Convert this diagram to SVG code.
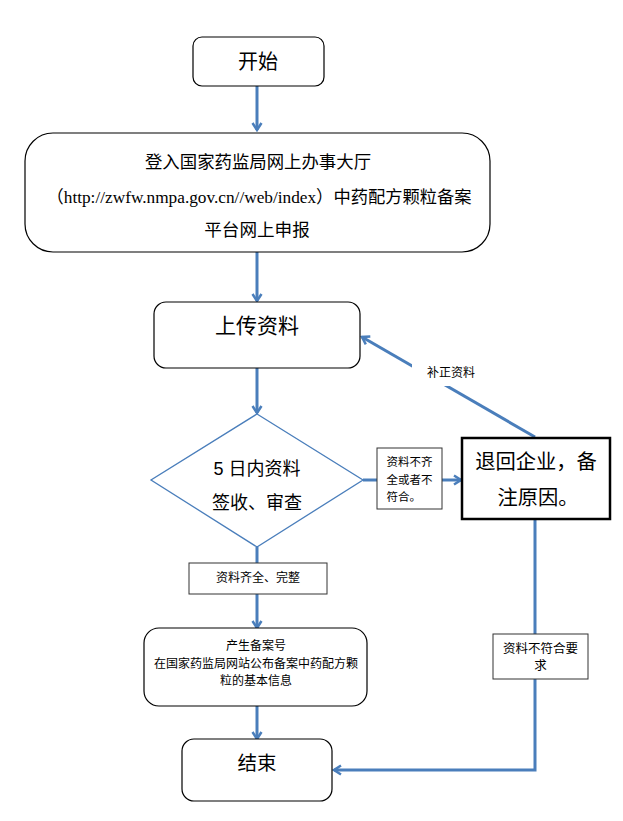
<svg xmlns="http://www.w3.org/2000/svg" width="623" height="821" viewBox="0 0 623 821">
<style>
.box{fill:#fff;stroke:#000;stroke-width:1.2}
.lbl{fill:#fff;stroke:#333;stroke-width:1}
.t{font-family:"Liberation Serif","Noto Sans CJK SC",serif;fill:#000;text-anchor:middle}
.con{fill:none;stroke:#4a7ebb;stroke-width:3}
</style>
<defs>
<marker id="ah" markerUnits="userSpaceOnUse" markerWidth="12" markerHeight="12" viewBox="0 0 12 12" refX="10" refY="6" orient="auto">
<path d="M3,1.5 L10,6 L3,10.5" fill="none" stroke="#4a7ebb" stroke-width="2.5"/>
</marker>
</defs>
<g id="connectors">
<line class="con" x1="257" y1="86" x2="257" y2="130" marker-end="url(#ah)"/>
<line class="con" x1="257" y1="252" x2="257" y2="301" marker-end="url(#ah)"/>
<line class="con" x1="257" y1="368" x2="257" y2="413" marker-end="url(#ah)"/>
<line class="con" x1="363" y1="480" x2="377" y2="480"/>
<line class="con" x1="442" y1="480" x2="461" y2="480" marker-end="url(#ah)"/>
<line class="con" x1="535" y1="437" x2="362" y2="337" marker-end="url(#ah)"/>
<polyline class="con" points="535,519 535,770 334,770" marker-end="url(#ah)"/>
<line class="con" x1="257" y1="547" x2="257" y2="563"/>
<line class="con" x1="257" y1="594" x2="257" y2="628" marker-end="url(#ah)"/>
<line class="con" x1="257" y1="706" x2="257" y2="739" marker-end="url(#ah)"/>
<g id="lbl-buzheng">
<rect x="412" y="358" width="70" height="28" fill="#fff"/>
<text class="t" x="451" y="377" font-size="12">补正资料</text>
</g>
<g id="lbl-buqi">
<rect class="lbl" x="377" y="448" width="65" height="61"/>
<text class="t" x="409.5" y="466" font-size="11.5">资料不齐</text>
<text class="t" x="409.5" y="484" font-size="11.5">全或者不</text>
<text class="t" x="409.5" y="501" font-size="11.5" text-anchor="start" style="text-anchor:start" dx="-23">符合。</text>
</g>
<g id="lbl-qiquan">
<rect class="lbl" x="189" y="563" width="138" height="31"/>
<text class="t" x="258" y="582" font-size="12">资料齐全、完整</text>
</g>
<g id="lbl-bufuhe">
<rect class="lbl" x="493" y="634" width="95" height="45"/>
<text class="t" x="540.5" y="652.5" font-size="12.5">资料不符合要</text>
<text class="t" x="540.5" y="670" font-size="12.5">求</text>
</g>
</g>
<g id="start">
<rect class="box" x="193" y="37" width="131" height="49" rx="9"/>
<text class="t" x="258" y="69" font-size="20">开始</text>
</g>
<g id="login">
<rect class="box" x="25" y="133" width="465" height="119" rx="28"/>
<text class="t" x="258" y="168" font-size="17.4">登入国家药监局网上办事大厅</text>
<text class="t" x="259" y="203" font-size="17.4" textLength="425" lengthAdjust="spacingAndGlyphs">（http://zwfw.nmpa.gov.cn//web/index）中药配方颗粒备案</text>
<text class="t" x="257" y="236" font-size="17.6">平台网上申报</text>
</g>
<g id="upload">
<rect class="box" x="154" y="302" width="206" height="66" rx="12"/>
<text class="t" x="257" y="333" font-size="21">上传资料</text>
</g>
<g id="review">
<polygon points="257,414 363,480 257,547 151,480" fill="#fff" stroke="#4a7ebb" stroke-width="1.3"/>
<text class="t" x="257" y="474.5" font-size="18"><tspan font-family="Liberation Sans,sans-serif">5 </tspan>日内资料</text>
<text class="t" x="257" y="508.5" font-size="18">签收、审查</text>
</g>
<g id="reject">
<rect x="462" y="438" width="148" height="81" fill="#fff" stroke="#000" stroke-width="2.5"/>
<text class="t" x="536" y="469" font-size="20.3">退回企业，备</text>
<text class="t" x="538" y="505" font-size="20.3">注原因。</text>
</g>
<g id="publish">
<rect class="box" x="144" y="628" width="223" height="78" rx="15"/>
<text class="t" x="256" y="649.5" font-size="12">产生备案号</text>
<text class="t" x="256" y="667.5" font-size="12">在国家药监局网站公布备案中药配方颗</text>
<text class="t" x="256" y="684.5" font-size="12">粒的基本信息</text>
</g>
<g id="end">
<rect class="box" x="182" y="739" width="150" height="62" rx="12"/>
<text class="t" x="257" y="770" font-size="19.5">结束</text>
</g>
</svg>
